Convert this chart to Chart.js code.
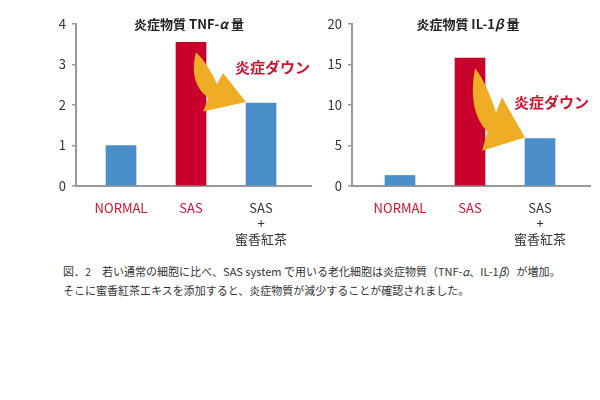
<!DOCTYPE html>
<html>

<head>
    <meta charset="utf-8">
    <script src="https://cdn.jsdelivr.net/npm/chart.js@4.4.0/dist/chart.umd.min.js"></script>
    <style>
        body { margin: 0; background: #fff; }
        #wrap { position: relative; width: 600px; height: 400px; }
        #leftChart { position: absolute; left: 0; top: 0; }
        #rightChart { position: absolute; left: 300px; top: 0; }
        #caption {
            position: absolute; left: 63px; top: 262px;
            font-family: "Noto Sans CJK JP"; font-size: 11px; line-height: 19px;
            color: #333; white-space: nowrap;
        }
    </style>
</head>

<body>
    <div id="wrap">
        <canvas id="leftChart" width="320" height="250"></canvas>
        <canvas id="rightChart" width="300" height="250"></canvas>
        <div id="caption">図．2　若い通常の細胞に比べ、SAS system で用いる老化細胞は炎症物質（TNF-<i>α</i>、IL-1<i>β</i>）が増加。<br>そこに蜜香紅茶エキスを添加すると、炎症物質が減少することが確認されました。</div>
    </div>
    <script>
        // data
        const categories = ['NORMAL', 'SAS', ['SAS', '+', '蜜香紅茶']];
        const tnfValues = [1.0, 3.55, 2.05];
        const il1Values = [1.3, 15.8, 5.85];
        const tnfTicks = [0, 1, 2, 3, 4];
        const il1Ticks = [0, 5, 10, 15, 20];

        const FONT = '"Noto Sans CJK JP", "Noto Sans", sans-serif';
        const BLUE = '#4a8fc9';
        const RED = '#c9002b';
        const ORANGE = '#efad25';
        const barColors = [BLUE, RED, BLUE];

        // title with italic greek letter
        function drawTitle(ctx, parts, cx, cy) {
            ctx.save();
            ctx.textBaseline = 'middle';
            ctx.fillStyle = '#222';
            let total = 0;
            parts.forEach(p => {
                ctx.font = (p.italic ? 'italic ' : '') + 'bold 13px ' + FONT;
                total += ctx.measureText(p.text).width;
            });
            let x = cx - total / 2;
            parts.forEach(p => {
                ctx.font = (p.italic ? 'italic ' : '') + 'bold 13px ' + FONT;
                ctx.textAlign = 'left';
                ctx.fillText(p.text, x, cy);
                x += ctx.measureText(p.text).width;
            });
            ctx.restore();
        }

        // curved arrow from SAS bar to the third bar + label
        const downPlugin = {
            id: 'down',
            afterDatasetsDraw(chart, args, opts) {
                const ctx = chart.ctx;
                const meta = chart.getDatasetMeta(0);
                const b1 = meta.data[1], b2 = meta.data[2];
                const tx = b1.x + 5, ty = b1.y + 10;
                const px = b2.x - b2.width / 2, py = b2.y - 1;
                const dx = px - tx, dy = py - ty;
                const m = (u, v) => [tx + u * dx, ty + v * dy];

                ctx.save();
                ctx.fillStyle = ORANGE;
                ctx.beginPath();
                ctx.moveTo(...m(0, 0));
                ctx.quadraticCurveTo(...m(0.22, 0.2), ...m(0.42, 0.64));
                ctx.lineTo(...m(0.54, 0.42));
                ctx.lineTo(...m(1, 1));
                ctx.lineTo(...m(0.14, 1.19));
                ctx.lineTo(...m(0.25, 0.92));
                ctx.quadraticCurveTo(...m(-0.16, 0.62), ...m(0, 0));
                ctx.closePath();
                ctx.fill();

                ctx.fillStyle = '#d0102e';
                ctx.font = 'bold 15px ' + FONT;
                ctx.textAlign = 'left';
                ctx.textBaseline = 'middle';
                ctx.fillText('炎症ダウン', px - 11, py - 35);

                const a = chart.chartArea;
                drawTitle(ctx, opts.title, b1.x - 2, a.top);
                ctx.restore();
            }
        };

        function makeChart(id, values, yTicks, axisWidth, xMin, padRight, title) {
            const step = yTicks[1] - yTicks[0];
            return new Chart(document.getElementById(id), {
                type: 'bar',
                data: {
                    datasets: [{
                        data: values.map((v, i) => ({ x: i, y: v })),
                        backgroundColor: barColors,
                        barThickness: 30
                    }]
                },
                options: {
                    responsive: false,
                    animation: false,
                    layout: { padding: { top: 24, right: padRight, left: 0, bottom: 0 } },
                    plugins: {
                        legend: { display: false },
                        tooltip: { enabled: false },
                        down: { title: title }
                    },
                    scales: {
                        x: {
                            type: 'linear',
                            offset: false,
                            min: xMin,
                            max: 2.714,
                            afterFit(scale) { scale.height = 64; },
                            grid: { display: false, offset: false },
                            border: { display: true, color: '#999', width: 2 },
                            ticks: {
                                stepSize: 1,
                                includeBounds: false,
                                autoSkip: false,
                                maxRotation: 0,
                                padding: 6,
                                font: { family: FONT, size: 13, lineHeight: 1.2 },
                                color: c => (c.tick && c.tick.value === 2) ? '#333' : '#d0102e',
                                callback: v => categories[v] !== undefined ? categories[v] : ''
                            }
                        },
                        y: {
                            min: yTicks[0],
                            max: yTicks[yTicks.length - 1],
                            afterFit(scale) { scale.width = axisWidth; },
                            grid: { display: true, drawOnChartArea: false, drawTicks: true, tickLength: 4, color: '#999', lineWidth: 1.5 },
                            border: { display: true, color: '#999', width: 2 },
                            ticks: {
                                stepSize: step,
                                padding: 6,
                                color: '#333',
                                font: { family: FONT, size: 13 }
                            }
                        }
                    }
                },
                plugins: [downPlugin]
            });
        }

        makeChart('leftChart', tnfValues, tnfTicks, 76, -0.643, 9,
            [{ text: '炎症物質 TNF-' }, { text: 'α', italic: true }, { text: ' 量' }]);
        makeChart('rightChart', il1Values, il1Ticks, 52, -0.686, 10,
            [{ text: '炎症物質 IL-1' }, { text: 'β', italic: true }, { text: ' 量' }]);
    </script>
</body>

</html>
